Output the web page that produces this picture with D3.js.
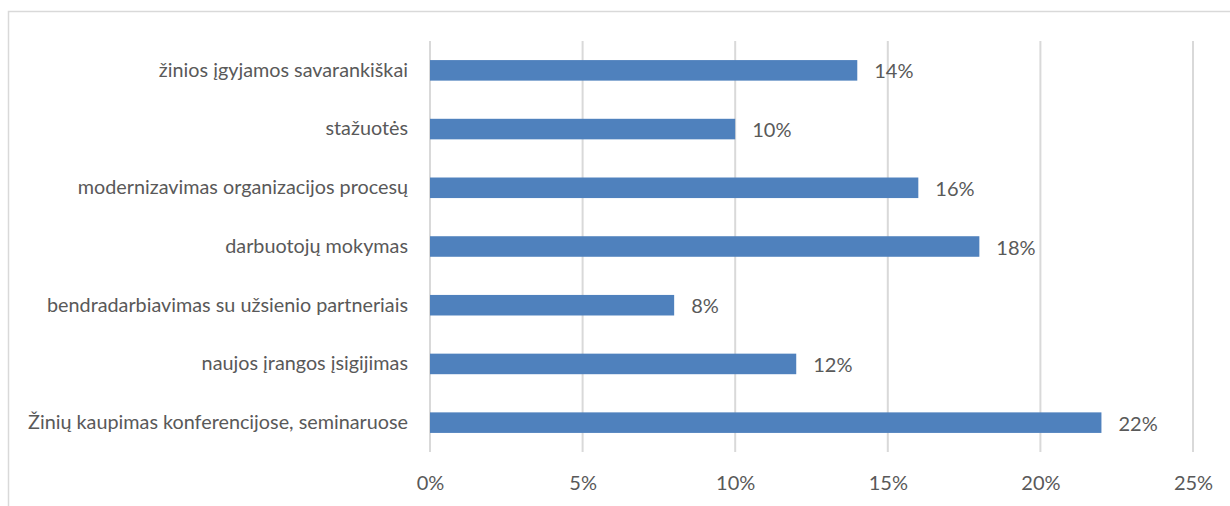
<!DOCTYPE html>
<html>
<head>
<meta charset="utf-8">
<script src="https://cdn.jsdelivr.net/npm/d3@7"></script>
<style>
  body { margin: 0; background: #fff; }
  text { font-family: Lato, "Open Sans", sans-serif; fill: #595959; }
</style>
</head>
<body>
<svg width="1230" height="506"></svg>
<script>
// chart data
var categories = [
    "žinios įgyjamos savarankiškai",
    "stažuotės",
    "modernizavimas organizacijos procesų",
    "darbuotojų mokymas",
    "bendradarbiavimas su užsienio partneriais",
    "naujos įrangos įsigijimas",
    "Žinių kaupimas konferencijose, seminaruose"
];
var values = [14, 10, 16, 18, 8, 12, 22];
var ticks = [0, 5, 10, 15, 20, 25];

var svg = d3.select("svg"),
    margin = {top: 41, right: 37, bottom: 54, left: 430},
    width = +svg.attr("width") - margin.left - margin.right,
    height = +svg.attr("height") - margin.top - margin.bottom;

// outer chart border
svg.append("rect")
    .attr("x", 8.5).attr("y", 11.5)
    .attr("width", 1240).attr("height", 520)
    .attr("fill", "none")
    .attr("stroke", "#d9d9d9")
    .attr("stroke-width", 1.5);

var x = d3.scaleLinear().domain([0, 25]).range([0, width]);
var y = d3.scaleBand().domain(categories).range([0, height]).paddingInner(0.65).paddingOuter(0.325);

var chart = svg.append("g")
    .attr("transform", "translate(" + margin.left + "," + margin.top + ")");

// gridlines
chart.selectAll(".grid")
    .data(ticks)
    .enter().append("line")
    .attr("x1", d => x(d)).attr("x2", d => x(d))
    .attr("y1", 0).attr("y2", height)
    .attr("stroke", "#d9d9d9")
    .attr("stroke-width", 2);

// x axis labels
var xAxis = chart.append("g")
    .attr("transform", "translate(0," + height + ")")
    .call(d3.axisBottom(x).tickValues(ticks).tickFormat(d => d + "%").tickSize(0).tickPadding(24));
xAxis.select(".domain").remove();
xAxis.selectAll("text").style("font-size", "20px").style("font-family", null).attr("fill", null);

// y axis labels
var yAxis = chart.append("g")
    .call(d3.axisLeft(y).tickSize(0).tickPadding(22));
yAxis.select(".domain").remove();
yAxis.selectAll("text").style("font-size", "19.8px").style("font-family", null).attr("fill", null);

// bars
chart.selectAll(".bar")
    .data(values)
    .enter().append("rect")
    .attr("class", "bar")
    .attr("x", 0)
    .attr("y", (d, i) => y(categories[i]))
    .attr("width", d => x(d))
    .attr("height", y.bandwidth())
    .attr("fill", "#4f81bd");

// value labels
chart.selectAll(".val")
    .data(values)
    .enter().append("text")
    .attr("x", d => x(d) + 17)
    .attr("y", (d, i) => y(categories[i]) + y.bandwidth() / 2 + 1)
    .attr("dy", "0.35em")
    .style("font-size", "20px")
    .text(d => d + "%");
</script>
</body>
</html>
